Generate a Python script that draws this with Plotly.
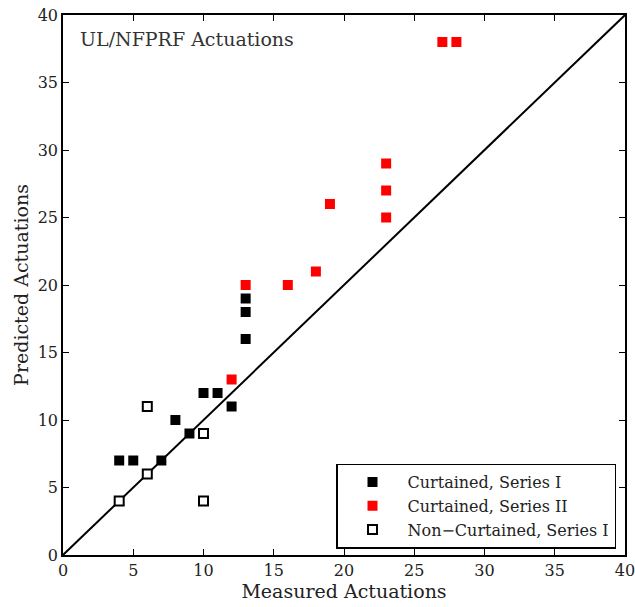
import plotly.graph_objects as go

# Data
cs1_x = [4, 5, 7, 8, 9, 10, 11, 12, 13, 13, 13]
cs1_y = [7, 7, 7, 10, 9, 12, 12, 11, 16, 18, 19]
cs2_x = [12, 13, 16, 18, 19, 23, 23, 23, 27, 28]
cs2_y = [13, 20, 20, 21, 26, 25, 27, 29, 38, 38]
nc_x = [4, 6, 6, 10, 10]
nc_y = [4, 6, 11, 9, 4]
line_xy = [0, 40]
ticks = [0, 5, 10, 15, 20, 25, 30, 35, 40]

FONT = "DejaVu Serif, serif"
TXT = "#222222"

fig = go.Figure()
fig.add_trace(go.Scatter(x=line_xy, y=line_xy, mode="lines",
                         line=dict(color="black", width=2), showlegend=False, hoverinfo="skip"))
fig.add_trace(go.Scatter(x=cs1_x, y=cs1_y, mode="markers", name="Curtained, Series I",
                         marker=dict(symbol="square", size=10, color="black",
                                     line=dict(width=0))))
fig.add_trace(go.Scatter(x=cs2_x, y=cs2_y, mode="markers", name="Curtained, Series II",
                         marker=dict(symbol="square", size=10, color="red",
                                     line=dict(width=0))))
fig.add_trace(go.Scatter(x=nc_x, y=nc_y, mode="markers", name="Non\u2212Curtained, Series I",
                         marker=dict(symbol="square", size=9, color="white",
                                     line=dict(width=2, color="black"))))

axis_common = dict(range=[0, 40], tickvals=ticks, ticks="inside", ticklen=6,
                   tickcolor="black", showline=True, linecolor="black", linewidth=1.5,
                   mirror="ticks", showgrid=False, zeroline=False, automargin=False,
                   ticklabeloverflow="allow",
                   tickfont=dict(family=FONT, size=16, color=TXT))

fig.update_layout(
    width=635, height=607,
    margin=dict(l=63, r=10, t=15, b=52),
    paper_bgcolor="white", plot_bgcolor="white",
    font=dict(family=FONT, color="black"),
    xaxis=dict(**axis_common, title=dict(text="Measured Actuations",
                                         font=dict(family=FONT, size=19, color=TXT),
                                         standoff=0)),
    yaxis=dict(**axis_common, title=dict(text="Predicted Actuations",
                                         font=dict(family=FONT, size=19, color=TXT),
                                         standoff=4)),
    legend=dict(x=0.984, y=0.012, xanchor="right", yanchor="bottom",
                bgcolor="white", bordercolor="black", borderwidth=1.5,
                font=dict(family=FONT, size=16, color=TXT),
                itemwidth=60, tracegroupgap=0),
    annotations=[dict(text="UL/NFPRF Actuations", x=0.027, y=0.98, xref="paper", yref="paper",
                      xanchor="left", yanchor="top", showarrow=False,
                      font=dict(family=FONT, size=19, color="#333333"))],
)

fig.write_html("out.html", config={"displayModeBar": False},
               post_script="document.body.style.margin='0';")
